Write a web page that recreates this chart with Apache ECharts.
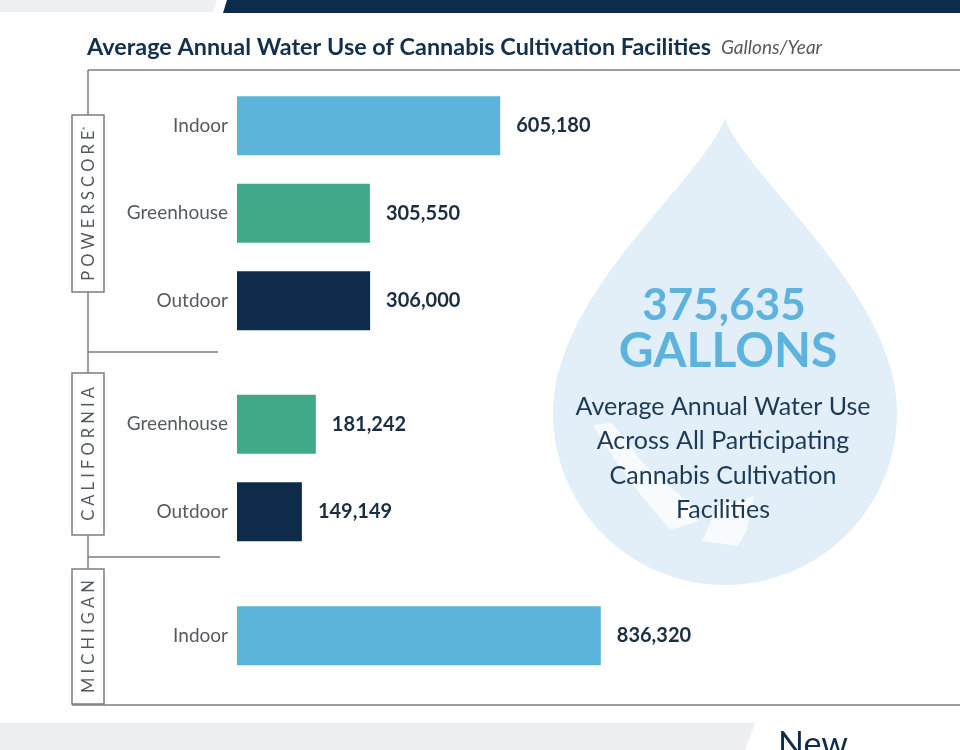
<!DOCTYPE html>
<html>
<head>
<meta charset="utf-8">
<script src="https://cdn.jsdelivr.net/npm/echarts@6/dist/echarts.min.js"></script>
<style>
html,body{margin:0;padding:0;background:#fff;}
#chart{width:960px;height:750px;}
</style>
</head>
<body>
<div id="chart"></div>
<script>
// ---- data ----
const titleText = 'Average Annual Water Use of Cannabis Cultivation Facilities';
const unitText = 'Gallons/Year';
const groups = ['POWERSCORE', 'CALIFORNIA', 'MICHIGAN'];
const powerscoreCats = ['Indoor', 'Greenhouse', 'Outdoor'];
const powerscoreVals = [605180, 305550, 306000];
const californiaCats = ['Greenhouse', 'Outdoor'];
const californiaVals = [181242, 149149];
const michiganCats = ['Indoor'];
const michiganVals = [836320];
const averageValue = 375635;
const averageLines = ['Average Annual Water Use', 'Across All Participating', 'Cannabis Cultivation', 'Facilities'];

// ---- styles ----
const typeColors = { Indoor: '#5cb4da', Greenhouse: '#40a98a', Outdoor: '#0e2c4a' };
const navy = '#13304d';
const gray = '#555a60';
const lineCol = '#7a7d80';
const FONT = 'Lato, "Noto Sans", sans-serif';

const groupCats = [powerscoreCats, californiaCats, michiganCats];
const groupVals = [powerscoreVals, californiaVals, michiganVals];
const rowH = 87.5;
const gridTops = [82, 380.5, 592];
const boxes = [[115, 292], [373, 535], [569, 704]];

const fmt = v => v.toLocaleString('en-US');

const grids = [], xAxes = [], yAxes = [], series = [];
groupCats.forEach((cats, i) => {
  grids.push({ left: 237, width: 696, top: gridTops[i], height: rowH * cats.length });
  xAxes.push({ gridIndex: i, type: 'value', min: 0, max: 1600000, show: false });
  yAxes.push({
    gridIndex: i, type: 'category', data: cats, inverse: true,
    axisLine: { show: false }, axisTick: { show: false }, splitLine: { show: false },
    axisLabel: { color: gray, fontSize: 19, fontFamily: FONT, margin: 9 }
  });
  series.push({
    type: 'bar', xAxisIndex: i, yAxisIndex: i, barWidth: 59,
    data: groupVals[i].map((v, j) => ({ value: v, itemStyle: { color: typeColors[cats[j]] } })),
    label: {
      show: true, position: 'right', distance: 16,
      formatter: p => fmt(p.value),
      color: '#1b2d42', fontSize: 20, fontWeight: 'bold', fontFamily: FONT
    },
    emphasis: { disabled: true }
  });
});

const spaced = s => s.split('').join('\u2005');

// water-drop outline (decorative shape): two cubic curves + lower circle
function bez(p0, p1, p2, p3, t) {
  const u = 1 - t;
  return [u*u*u*p0[0] + 3*u*u*t*p1[0] + 3*u*t*t*p2[0] + t*t*t*p3[0],
          u*u*u*p0[1] + 3*u*u*t*p1[1] + 3*u*t*t*p2[1] + t*t*t*p3[1]];
}
function dropPoints(cx, top, cy, r) {
  const pts = [];
  const N = 40;
  for (let k = 0; k <= N; k++) pts.push(bez([cx, top], [cx + 20, top + 60], [cx + r, cy - 121], [cx + r, cy], k / N));
  for (let k = 1; k < 80; k++) { const a = Math.PI * k / 80; pts.push([cx + r * Math.cos(a), cy + r * Math.sin(a)]); }
  for (let k = 0; k <= N; k++) pts.push(bez([cx - r, cy], [cx - r, cy - 121], [cx - 20, top + 60], [cx, top], k / N));
  return pts;
}

const graphic = [
  // header strips
  { type: 'polygon', shape: { points: [[0, 0], [217, 0], [213, 12], [0, 12]] }, style: { fill: '#eef0f3' }, silent: true },
  { type: 'polygon', shape: { points: [[227, 0], [960, 0], [960, 13], [223, 13]] }, style: { fill: '#0d2c4b' }, silent: true },
  // footer strip
  { type: 'polygon', shape: { points: [[0, 723], [755, 723], [745, 750], [0, 750]] }, style: { fill: '#eceef1' }, silent: true },
  { type: 'text', x: 778, y: 728, style: { text: 'New', fill: '#0d2c4b', fontSize: 34, fontFamily: FONT, textAlign: 'left', textVerticalAlign: 'top' }, silent: true },
  // title
  { type: 'text', x: 87, y: 47, style: { text: titleText, fill: navy, fontSize: 23.4, fontWeight: 'bold', fontFamily: FONT, textAlign: 'left', textVerticalAlign: 'middle' }, silent: true },
  { type: 'text', x: 721, y: 48, style: { text: unitText, fill: gray, fontSize: 19, fontStyle: 'italic', fontFamily: FONT, textAlign: 'left', textVerticalAlign: 'middle' }, silent: true },
  // frame lines
  { type: 'line', shape: { x1: 88, y1: 70, x2: 960, y2: 70 }, style: { stroke: lineCol, lineWidth: 1.5 }, silent: true },
  { type: 'line', shape: { x1: 88, y1: 70, x2: 88, y2: 704 }, style: { stroke: lineCol, lineWidth: 1.5 }, silent: true },
  { type: 'line', shape: { x1: 88, y1: 352, x2: 218, y2: 352 }, style: { stroke: lineCol, lineWidth: 1.5 }, silent: true },
  { type: 'line', shape: { x1: 88, y1: 557, x2: 220, y2: 557 }, style: { stroke: lineCol, lineWidth: 1.5 }, silent: true },
  { type: 'line', shape: { x1: 72, y1: 705, x2: 960, y2: 705 }, style: { stroke: lineCol, lineWidth: 1.5 }, silent: true },
  // water drop
  { type: 'polygon', shape: { points: dropPoints(725, 118, 413, 172) }, style: { fill: '#e2eff8' }, silent: true },
  { type: 'polygon', shape: { points: [[593, 425], [612, 423], [642, 462], [690, 504], [699, 521], [670, 530], [640, 494], [612, 456]] }, style: { fill: '#ffffff', opacity: 0.75 }, silent: true },
  { type: 'polygon', shape: { points: [[702, 541], [718, 506], [754, 496], [746, 532], [738, 546]] }, style: { fill: '#ffffff', opacity: 0.75 }, silent: true },
  { type: 'text', x: 724, y: 306, style: { text: fmt(averageValue), fill: '#5db3de', fontSize: 44, fontWeight: 'bold', fontFamily: FONT, textAlign: 'center', textVerticalAlign: 'middle' }, silent: true },
  { type: 'text', x: 728, y: 352, style: { text: 'GALLONS', fill: '#5db3de', fontSize: 48, fontWeight: 'bold', fontFamily: FONT, textAlign: 'center', textVerticalAlign: 'middle' }, silent: true }
];
averageLines.forEach((t, k) => {
  graphic.push({ type: 'text', x: 723, y: 407 + k * 34.3, style: { text: t, fill: '#1c3a56', fontSize: 25, fontFamily: FONT, textAlign: 'center', textVerticalAlign: 'middle' }, silent: true });
});
groups.forEach((g, i) => {
  const [t, b] = boxes[i];
  graphic.push({ type: 'rect', shape: { x: 72, y: t, width: 32, height: b - t }, style: { fill: '#fff', stroke: lineCol, lineWidth: 1.5 }, silent: true });
  graphic.push({
    type: 'text', x: 89, y: (t + b) / 2, rotation: Math.PI / 2,
    style: {
      text: spaced(g) + (i === 0 ? '{s|*}' : ''),
      rich: { s: { fontSize: 10, verticalAlign: 'top', fill: gray, fontFamily: FONT } },
      fill: gray, fontSize: 16.5, fontFamily: FONT, textAlign: 'center', textVerticalAlign: 'middle'
    },
    silent: true
  });
});

const chart = echarts.init(document.getElementById('chart'));
chart.setOption({
  backgroundColor: '#ffffff',
  animation: false,
  grid: grids,
  xAxis: xAxes,
  yAxis: yAxes,
  series: series,
  graphic: graphic
});
</script>
</body>
</html>
